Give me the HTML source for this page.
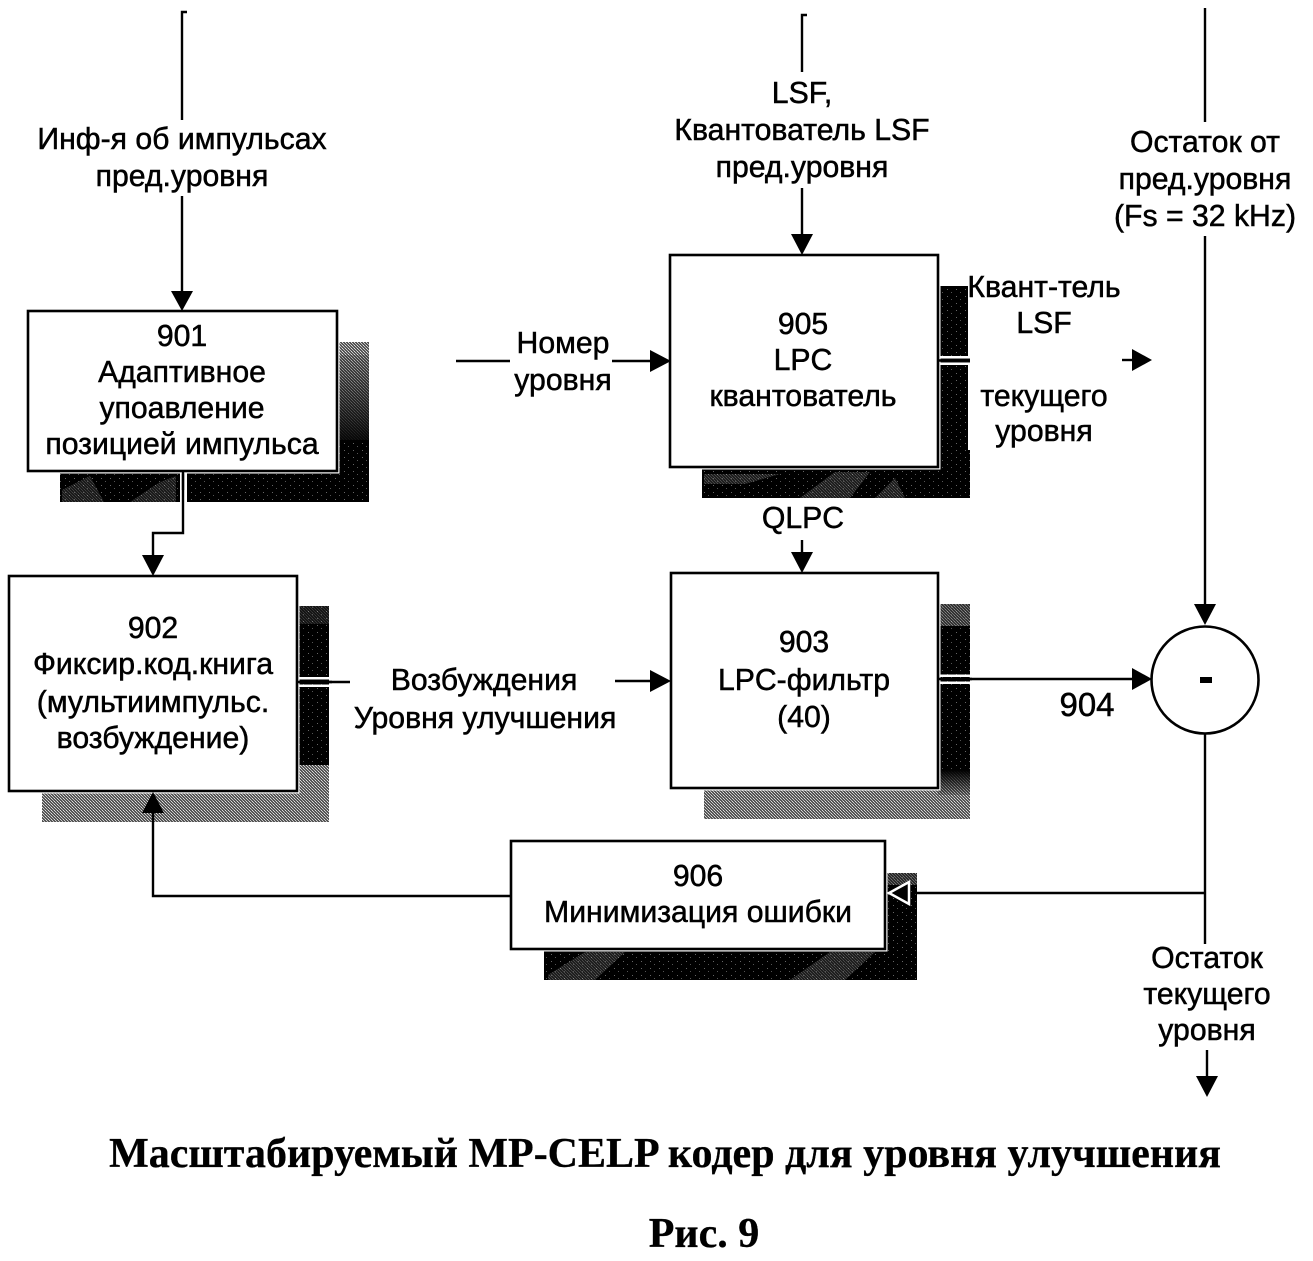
<!DOCTYPE html>
<html><head><meta charset="utf-8"><style>
html,body{margin:0;padding:0;background:#fff}
svg{display:block}
text{font-family:"Liberation Sans",sans-serif;font-size:30.2px;fill:#000;stroke:#000;stroke-width:.5;text-anchor:middle}
.t{font-family:"Liberation Serif",serif;font-weight:bold;font-size:42px;stroke-width:.3}
</style></head><body>
<svg width="1313" height="1261" viewBox="0 0 1313 1261" xmlns="http://www.w3.org/2000/svg">
<defs>
<pattern id="g" width="3" height="3" patternUnits="userSpaceOnUse"><rect width="3" height="3" fill="#555"/><rect width="1" height="1" fill="#ddd"/><rect x="1" y="1" width="1" height="1" fill="#ccc"/><rect x="2" y="2" width="1" height="1" fill="#bbb"/></pattern>
<pattern id="d" width="9" height="7" patternUnits="userSpaceOnUse"><rect width="9" height="7" fill="#000"/><rect x="2" y="2" width="1" height="1" fill="#666"/><rect x="6" y="5" width="1" height="1" fill="#555"/></pattern>
<linearGradient id="fade" x1="0" y1="0" x2="0" y2="1"><stop offset="0" stop-color="#000" stop-opacity=".15"/><stop offset="1" stop-color="#000" stop-opacity="1"/></linearGradient>
</defs>

<!-- shadows -->
<rect x="337" y="342" width="32" height="130" fill="url(#g)"/>
<rect x="337" y="355" width="32" height="95" fill="url(#fade)"/>
<rect x="337" y="440" width="32" height="62" fill="url(#d)"/>
<rect x="60" y="472" width="309" height="30" fill="url(#d)"/>
<path d="M62 490L90 476L104 502H62ZM130 502L160 482L176 476V502Z" fill="url(#g)" opacity=".3"/>
<rect x="180" y="472" width="7" height="30" fill="#fff"/>

<rect x="938" y="286" width="30" height="170" fill="url(#d)"/>
<rect x="938" y="450" width="32" height="48" fill="url(#d)"/>
<rect x="702" y="468" width="268" height="30" fill="url(#d)"/>
<path d="M800 498L835 472H870L850 498ZM704 474H780L745 484H704ZM875 498L895 478L905 498Z" fill="url(#g)" opacity=".35"/>
<rect x="938" y="356" width="32" height="2.5" fill="#fff"/>
<rect x="938" y="362.5" width="32" height="2.5" fill="#fff"/>
<rect x="938" y="358.5" width="32" height="4" fill="#111"/>

<rect x="297" y="606" width="32" height="165" fill="url(#d)"/>
<rect x="297" y="606" width="32" height="18" fill="url(#g)" opacity=".25"/>
<rect x="297" y="765" width="32" height="57" fill="url(#g)"/>
<rect x="42" y="791" width="287" height="31" fill="url(#g)"/>
<rect x="297" y="677" width="32" height="2.5" fill="#fff"/>
<rect x="297" y="684.5" width="32" height="2.5" fill="#fff"/>

<rect x="938" y="604" width="32" height="172" fill="url(#d)"/>
<rect x="938" y="604" width="32" height="22" fill="url(#g)" opacity=".6"/>
<rect x="704" y="788" width="266" height="31" fill="url(#g)"/>
<rect x="938" y="770" width="32" height="49" fill="url(#g)"/>
<rect x="938" y="770" width="32" height="25" fill="url(#fade)" transform="rotate(180 954 782.5)"/>
<rect x="938" y="674.5" width="32" height="2.5" fill="#fff"/>
<rect x="938" y="681.5" width="32" height="2.5" fill="#fff"/>

<rect x="885" y="873" width="32" height="107" fill="url(#d)"/>
<rect x="885" y="873" width="32" height="12" fill="url(#g)" opacity=".5"/>
<rect x="544" y="950" width="373" height="30" fill="url(#d)"/>
<path d="M548 975L585 952H625L595 980H548ZM790 980L830 952H875L845 980Z" fill="url(#g)" opacity=".35"/>

<!-- lines -->
<g fill="none" stroke="#000" stroke-width="2.4">
<path d="M187 12H182V120M182 196V292"/>
<path d="M807 15H802V72M802 188V236"/>
<path d="M1205 8V122M1205 236V606"/>
<path d="M183 472V533H153V556"/>
<path d="M456 361H510M612 361H652"/>
<path d="M1122 360H1134"/>
<path d="M802 540V554"/>
<path d="M350 682H297M615 681H652"/>
<path d="M938 679H1134"/>
<path d="M1205 734V944"/>
<path d="M1205 893H905"/>
<path d="M1207 1050V1078"/>
</g>

<!-- box halos -->
<g fill="#fff" stroke="#fff" stroke-width="5">
<rect x="28" y="311" width="309" height="160"/>
<rect x="670" y="255" width="268" height="212"/>
<rect x="9" y="576" width="288" height="215"/>
<rect x="671" y="573" width="267" height="215"/>
<rect x="511" y="841" width="374" height="108"/>
</g>

<!-- connectors redrawn over halos -->
<g fill="none" stroke="#000" stroke-width="2.4">
<path d="M511 896H153V810"/>
<path d="M183 472V490"/>
<path d="M297 682H332M938 679H972M938 360.5H970"/>
</g>

<!-- arrowheads -->
<g fill="#000">
<path d="M171 291H193L182 311Z"/>
<path d="M791 234H813L802 255Z"/>
<path d="M1194 604H1216L1205 625Z"/>
<path d="M142 555H164L153 576Z"/>
<path d="M650 350V372L671 361Z"/>
<path d="M1132 349V371L1152 360Z"/>
<path d="M791 552H813L802 573Z"/>
<path d="M650 670V692L671 681Z"/>
<path d="M1132 668V690L1152 679Z"/>
<path d="M142 813H164L153 792Z"/>
<path d="M1196 1076H1218L1207 1097Z"/>
</g>

<!-- boxes -->
<g fill="none" stroke="#000" stroke-width="2.6">
<rect x="28" y="311" width="309" height="160"/>
<rect x="670" y="255" width="268" height="212"/>
<rect x="9" y="576" width="288" height="215"/>
<rect x="671" y="573" width="267" height="215"/>
<rect x="511" y="841" width="374" height="108"/>
</g>
<circle cx="1205" cy="680" r="53.5" fill="#fff" stroke="#000" stroke-width="2.6"/>
<rect x="1200" y="677" width="12" height="6" fill="#000"/>

<!-- arrow into 906: black head with white outline -->
<polygon points="889,893 909,882 909,904" style="fill:#000;stroke:#fff;stroke-width:2.5"/>

<!-- labels -->
<text x="182" y="149">Инф-я об импульсах</text>
<text x="182" y="186">пред.уровня</text>
<text x="802" y="103">LSF,</text>
<text x="802" y="140">Квантователь LSF</text>
<text x="802" y="177">пред.уровня</text>
<text x="1205" y="152">Остаток от</text>
<text x="1205" y="189">пред.уровня</text>
<text x="1205" y="226">(Fs = 32 kHz)</text>

<text x="182" y="346">901</text>
<text x="182" y="382">Адаптивное</text>
<text x="182" y="418">упоавление</text>
<text x="182" y="454">позицией импульса</text>

<text x="803" y="334">905</text>
<text x="803" y="370">LPC</text>
<text x="803" y="406">квантователь</text>

<text x="1044" y="297">Квант-тель</text>
<text x="1044" y="333">LSF</text>
<text x="1044" y="406">текущего</text>
<text x="1044" y="441">уровня</text>

<text x="563" y="353">Номер</text>
<text x="563" y="390">уровня</text>
<text x="803" y="528">QLPC</text>

<text x="153" y="638">902</text>
<text x="153" y="674">Фиксир.код.книга</text>
<text x="153" y="712">(мультиимпульс.</text>
<text x="153" y="748">возбуждение)</text>

<text x="484" y="690">Возбуждения</text>
<text x="485" y="728">Уровня улучшения</text>

<text x="804" y="652">903</text>
<text x="804" y="690">LPC-фильтр</text>
<text x="804" y="727">(40)</text>

<text x="1087" y="716" style="font-size:33px">904</text>

<text x="698" y="886">906</text>
<text x="698" y="922">Минимизация ошибки</text>

<text x="1207" y="968">Остаток</text>
<text x="1207" y="1004">текущего</text>
<text x="1207" y="1040">уровня</text>

<text class="t" x="665" y="1167">Масштабируемый MP-CELP кодер для уровня улучшения</text>
<text class="t" x="704" y="1247">Рис. 9</text>
</svg>
</body></html>
